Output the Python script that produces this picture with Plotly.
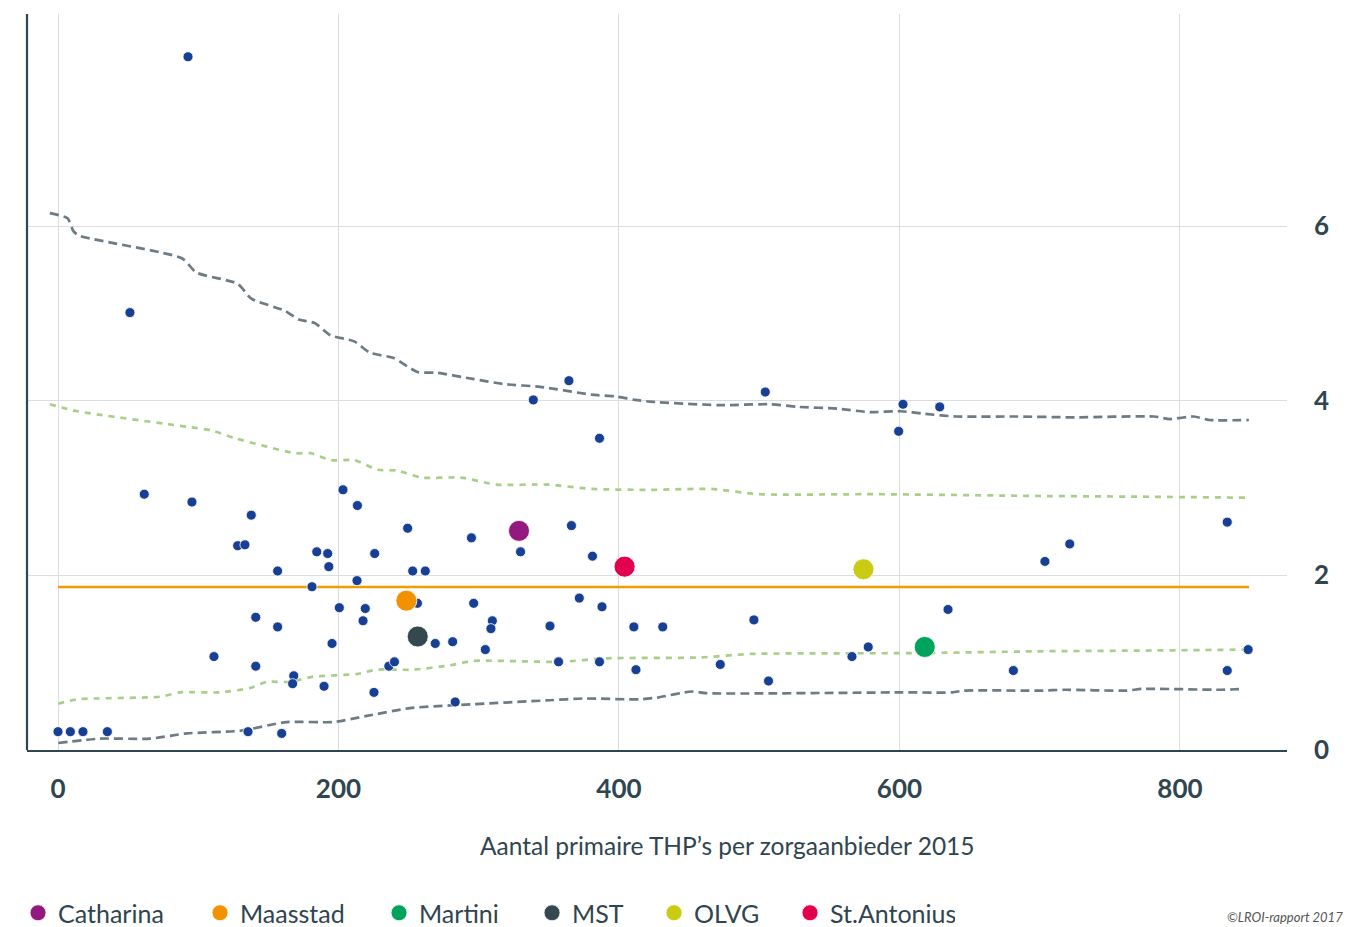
import plotly.graph_objects as go

# ---------------- data ----------------
other_x = [92.7, 51.3, 364.3, 338.9, 386.1, 504.3, 602.5, 628.7, 599.4, 61.5,
           95.5, 137.8, 128.1, 133.3, 203.2, 213.5, 249.3, 184.5, 192.3, 225.8,
           156.6, 193.1, 252.9, 261.9, 213.2, 181.1, 256.3, 200.6, 219.1, 141.0,
           217.5, 156.6, 195.4, 269.0, 111.2, 141.0, 168.1, 167.3, 189.7, 235.9,
           239.9, 225.3, 0.0, 8.8, 17.8, 35.2, 135.5, 159.5, 294.8, 366.1,
           329.8, 381.1, 296.4, 371.7, 387.9, 309.7, 308.7, 350.8, 410.6, 431.2,
           281.4, 304.7, 356.9, 386.1, 412.1, 283.2, 833.7, 721.4, 703.7, 496.2,
           634.6, 472.2, 506.6, 566.1, 577.7, 681.2, 833.7, 848.6]
other_y = [7.94, 5.01, 4.23, 4.01, 3.57, 4.10, 3.96, 3.93, 3.65, 2.93,
           2.84, 2.69, 2.34, 2.35, 2.98, 2.80, 2.54, 2.27, 2.25, 2.25,
           2.05, 2.10, 2.05, 2.05, 1.94, 1.87, 1.68, 1.63, 1.62, 1.52,
           1.48, 1.41, 1.22, 1.22, 1.07, 0.96, 0.85, 0.76, 0.73, 0.96,
           1.01, 0.66, 0.21, 0.21, 0.21, 0.21, 0.21, 0.19, 2.43, 2.57,
           2.27, 2.22, 1.68, 1.74, 1.64, 1.48, 1.39, 1.42, 1.41, 1.41,
           1.24, 1.15, 1.01, 1.01, 0.92, 0.55, 2.61, 2.36, 2.16, 1.49,
           1.61, 0.98, 0.79, 1.07, 1.18, 0.91, 0.91, 1.15]

hospitals = ["Catharina", "Maasstad", "Martini", "MST", "OLVG", "St.Antonius"]
hosp_x = [328.7, 248.4, 618.0, 256.5, 574.3, 404.0]
hosp_y = [2.51, 1.71, 1.18, 1.30, 2.07, 2.10]
hosp_colors = ["#93197e", "#f39200", "#00a35c", "#34494f", "#c9cc12", "#e2004f"]

mean_x = [0, 849.2]
mean_y = [1.867, 1.867]

upper_outer_x = [-5.8, 6.8, 11.1, 15.3, 88.6, 98.5, 128.1, 137.9, 161.9, 171.8,
                 183.0, 194.3, 211.2, 222.5, 239.4, 256.3, 270.4, 295.8, 318.4, 343.7,
                 380.4, 397.3, 411.4, 422.1, 471.4, 508.0, 527.8, 555.9, 578.5, 601.1,
                 618.0, 640.5, 682.8, 725.1, 781.5, 792.8, 809.7, 820.9, 849.1]
upper_outer_y = [6.15, 6.09, 5.94, 5.89, 5.63, 5.47, 5.34, 5.17, 5.03, 4.93,
                 4.89, 4.75, 4.68, 4.55, 4.49, 4.33, 4.32, 4.25, 4.19, 4.16,
                 4.07, 4.05, 4.01, 3.99, 3.95, 3.96, 3.93, 3.91, 3.87, 3.88,
                 3.85, 3.82, 3.82, 3.81, 3.82, 3.79, 3.82, 3.78, 3.78]

upper_inner_x = [-5.8, 13.8, 92.8, 109.7, 126.6, 168.9, 180.2, 194.3, 211.2, 228.2,
                 242.2, 259.2, 287.3, 312.7, 349.4, 380.4, 422.1, 465.7, 499.5, 584.1,
                 696.9, 781.5, 847.8]
upper_inner_y = [3.96, 3.88, 3.70, 3.66, 3.57, 3.40, 3.40, 3.32, 3.32, 3.21,
                 3.20, 3.12, 3.12, 3.04, 3.04, 2.99, 2.98, 2.99, 2.93, 2.93,
                 2.91, 2.90, 2.89]

lower_inner_x = [0.2, 13.3, 72.7, 87.0, 115.5, 136.9, 148.8, 165.4, 182.0, 213.0,
                 227.2, 253.3, 279.5, 296.1, 357.9, 391.2, 457.8, 493.9, 612.3, 696.9,
                 781.5, 847.8]
lower_inner_y = [0.53, 0.58, 0.61, 0.66, 0.66, 0.71, 0.78, 0.78, 0.84, 0.87,
                 0.92, 0.92, 0.97, 1.02, 1.01, 1.05, 1.06, 1.10, 1.11, 1.13,
                 1.14, 1.15]

lower_outer_x = [0.2, 29.9, 65.6, 91.8, 129.8, 163.1, 196.3, 220.1, 251.0, 279.5,
                 350.8, 374.6, 415.0, 426.9, 451.6, 462.9, 600.4, 637.7, 646.1, 702.5,
                 716.7, 761.8, 773.1, 829.4, 844.9]
lower_outer_y = [0.08, 0.13, 0.13, 0.19, 0.22, 0.32, 0.32, 0.39, 0.48, 0.51,
                 0.57, 0.59, 0.58, 0.60, 0.67, 0.65, 0.66, 0.66, 0.68, 0.68,
                 0.69, 0.68, 0.70, 0.69, 0.70]

x_ticks = [0, 200, 400, 600, 800]
y_ticks = [0, 2, 4, 6]
x_title = "Aantal primaire THP\u2019s per zorgaanbieder 2015"
credit = "\u00a9LROI-rapport 2017"

# ---------------- styles ----------------
FONT = "Lato"
DARK = "#2f454f"
GRAY_DASH = "#6c7b84"
GREEN_DASH = "#a8cf88"
NAVY = "#173f93"
legend_widths = [137, 134, 108, 77, 91, 120]

fig = go.Figure()

for xs, ys, col, dash in [
    (upper_outer_x, upper_outer_y, GRAY_DASH, "9px,5px"),
    (lower_outer_x, lower_outer_y, GRAY_DASH, "9px,5px"),
    (upper_inner_x, upper_inner_y, GREEN_DASH, "6px,6px"),
    (lower_inner_x, lower_inner_y, GREEN_DASH, "6px,6px"),
]:
    fig.add_trace(go.Scatter(x=xs, y=ys, mode="lines", showlegend=False,
                             hoverinfo="skip",
                             line=dict(color=col, width=2.7, dash=dash,
                                       shape="spline", smoothing=0.6)))

fig.add_trace(go.Scatter(x=mean_x, y=mean_y, mode="lines", showlegend=False,
                         line=dict(color="#f39c00", width=2.6)))

fig.add_trace(go.Scatter(x=other_x, y=other_y, mode="markers", showlegend=False,
                         marker=dict(color=NAVY, size=10,
                                     line=dict(color="white", width=0.8))))

for name, hx, hy, col, lw in zip(hospitals, hosp_x, hosp_y, hosp_colors, legend_widths):
    fig.add_trace(go.Scatter(x=[hx], y=[hy], mode="markers", name=name,
                             legendwidth=lw,
                             marker=dict(color=col, size=21,
                                         line=dict(color="white", width=0.8))))

# page body has an 8px margin: figure sized/placed to fit the 1363x927 window
fig.update_layout(
    width=1355, height=919,
    margin=dict(l=19, r=76, t=6, b=177),
    plot_bgcolor="white", paper_bgcolor="white",
    font=dict(family=FONT, color=DARK),
    showlegend=True,
    legend=dict(orientation="h", xref="container", x=0.0074, xanchor="left",
                yref="container", y=0.0152, yanchor="middle",
                font=dict(family=FONT, size=25, color=DARK),
                bgcolor="rgba(0,0,0,0)"),
    xaxis=dict(range=[-22.1, 876.3], tickvals=x_ticks,
               ticktext=[str(v) for v in x_ticks],
               showgrid=True, gridcolor="#dddddd", gridwidth=1,
               zeroline=False, showline=True, linecolor=DARK, linewidth=2.2,
               ticks="", ticklabelstandoff=15,
               tickfont=dict(family=FONT, size=26, color=DARK, weight="bold")),
    yaxis=dict(range=[0, 8.43], tickvals=y_ticks,
               ticktext=[str(v) for v in y_ticks], side="right",
               showgrid=True, gridcolor="#dddddd", gridwidth=1,
               zeroline=False, showline=False, ticks="",
               ticklabelstandoff=26,
               tickfont=dict(family=FONT, size=26, color=DARK, weight="bold")),
    shapes=[dict(type="line", xref="paper", yref="paper", x0=0, x1=0, y0=0, y1=1,
                 line=dict(color=DARK, width=2.2))],
    annotations=[
        dict(text=x_title, xref="paper", yref="paper", x=0.556, y=-0.1304,
             xanchor="center", yanchor="middle", showarrow=False,
             font=dict(family=FONT, size=24.5, color=DARK)),
        dict(text=credit, xref="paper", yref="paper", x=1.046, y=-0.213,
             xanchor="right", yanchor="top", showarrow=False,
             font=dict(family=FONT, size=13, color="#555555", style="italic")),
    ],
)

fig.write_html("out.html")
